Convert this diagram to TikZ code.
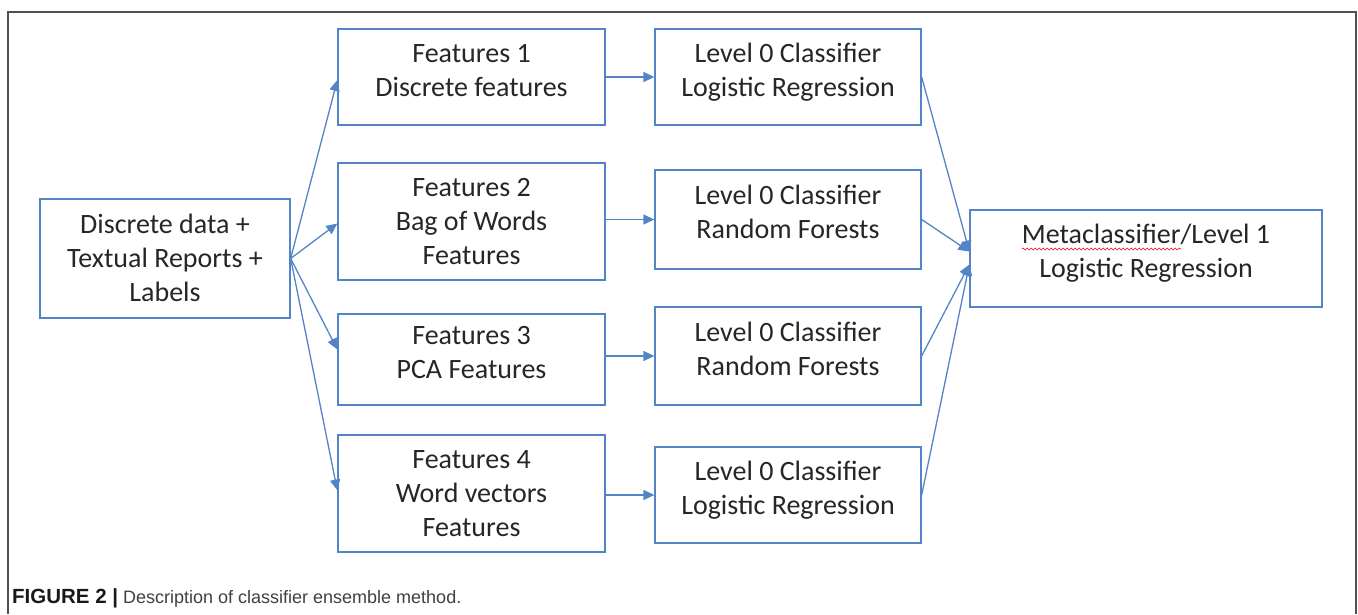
\documentclass[tikz,border=0pt]{standalone}
\usepackage{fontspec}
\setmainfont{Carlito}
\newfontfamily\capfont{Liberation Sans}
\usetikzlibrary{arrows.meta,decorations.pathmorphing}
\definecolor{boxblue}{RGB}{84,132,200}
\definecolor{framegray}{RGB}{80,80,80}

\begin{document}
\begin{tikzpicture}[x=1pt,y=-1pt,
    box/.style={draw=boxblue,line width=1.3pt,align=center,inner sep=0pt,
        font=\fontsize{28}{34}\selectfont,text=black!85,text height=93pt,text depth=7pt},
    twoline/.style={text height=45pt,text depth=7pt},
    arr/.style={draw=boxblue,line width=1.3pt,-{Triangle[length=11pt,width=10pt]}}]
        \useasboundingbox (0,0) rectangle (1358,614);
        % outer frame, open at the bottom
        \draw[framegray,line width=1.3pt] (8,614) -- (8,12) -- (1356,12) -- (1356,614);

        \node[box,minimum width=250pt,minimum height=119pt] (in) at (165,258.5) {Discrete data +\\Textual Reports +\\Labels};

        \node[box,twoline,minimum width=267pt,minimum height=96pt]  (f1) at (471.5,77)    {Features 1\\Discrete features};
        \node[box,minimum width=267pt,minimum height=117pt] (f2) at (471.5,221.5) {Features 2\\Bag of Words\\Features};
        \node[box,twoline,minimum width=267pt,minimum height=91pt]  (f3) at (471.5,359.5) {Features 3\\PCA Features};
        \node[box,minimum width=267pt,minimum height=117pt] (f4) at (471.5,493.5) {Features 4\\Word vectors\\Features};

        \node[box,twoline,minimum width=266pt,minimum height=96pt] (c1) at (788,77)    {Level 0 Classifier\\Logistic Regression};
        \node[box,twoline,minimum width=266pt,minimum height=99pt] (c2) at (788,219.5) {Level 0 Classifier\\Random Forests};
        \node[box,twoline,minimum width=266pt,minimum height=98pt] (c3) at (788,356)   {Level 0 Classifier\\Random Forests};
        \node[box,twoline,minimum width=266pt,minimum height=96pt] (c4) at (788,495)   {Level 0 Classifier\\Logistic Regression};

        \node[box,twoline,minimum width=352pt,minimum height=97pt] (meta) at (1146,258.5) {Metaclassifier/Level 1\\Logistic Regression};
        \draw[red,line width=0.6pt,decorate,decoration={snake,segment length=4pt,amplitude=1pt}]
            (1022,249) -- (1181,249);

        % input to feature sets
        \draw[arr] (in.east) -- ([yshift=-3pt]f1.west);
        \draw[arr] (in.east) -- ([yshift=-2pt]f2.west);
        \draw[arr] (in.east) -- ([yshift=10pt]f3.west);
        \draw[arr] (in.east) -- ([yshift=3pt]f4.west);

        % feature sets to level 0
        \foreach \i in {1,...,4}
            \draw[arr] (f\i.east |- c\i.west) -- (c\i.west);

        % level 0 to meta
        \draw[arr] (c1.east) -- ([yshift=7pt]meta.west);
        \draw[arr] (c2.east) -- ([yshift=7pt]meta.west);
        \draw[arr] (c3.east) -- ([yshift=-6pt]meta.west);
        \draw[arr] (c4.east) -- ([yshift=-6pt]meta.west);

        \node[anchor=base west,inner sep=0pt,font=\capfont\fontsize{18}{20}\selectfont,text=black!75] (cap) at (12,603)
            {{\fontsize{20.5}{20}\selectfont\bfseries\color{black!90}FIGURE 2 |} Description of classifier ensemble method.};
    \end{tikzpicture}
\end{document}
